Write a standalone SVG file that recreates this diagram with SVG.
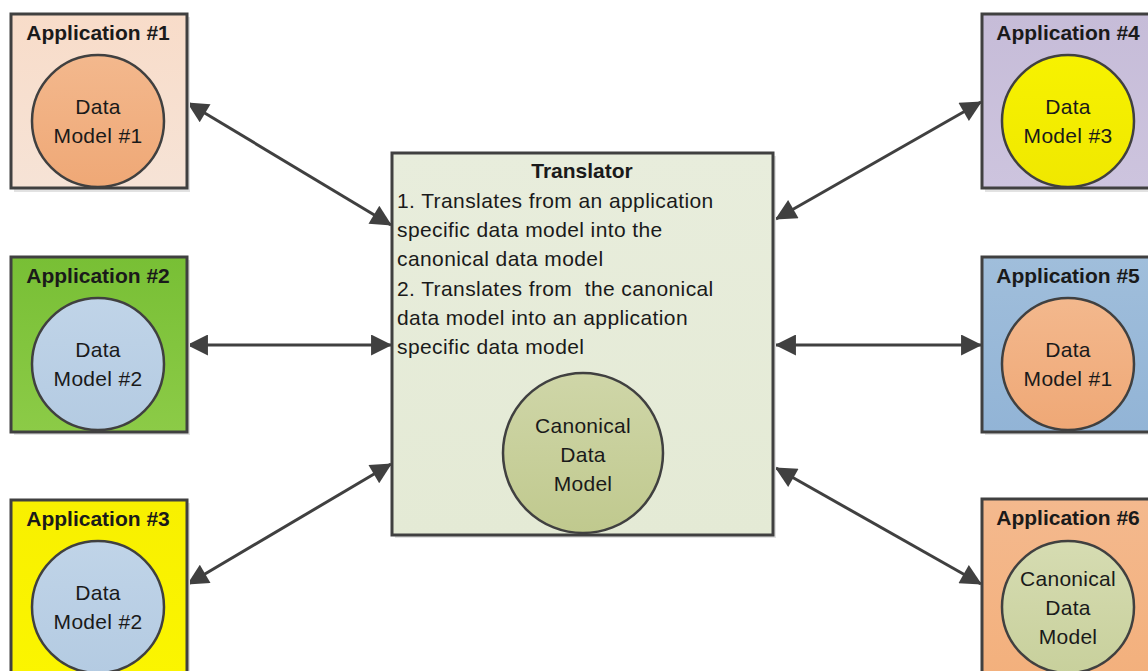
<svg xmlns="http://www.w3.org/2000/svg" width="1148" height="671" viewBox="0 0 1148 671">
<defs>
<style>
.box{stroke:#404040;stroke-width:3}
.circ{stroke:#404040;stroke-width:2.5}
.title{font-family:"Liberation Sans",Arial,sans-serif;font-size:21px;font-weight:bold;fill:#1a1a1a;text-anchor:middle}
.lbl{font-family:"Liberation Sans",Arial,sans-serif;font-size:21px;letter-spacing:0.3px;fill:#1a1a1a;text-anchor:middle}
.body{font-family:"Liberation Sans",Arial,sans-serif;font-size:21px;letter-spacing:0.4px;fill:#1a1a1a}
.conn{stroke:#404040;stroke-width:3;fill:none;marker-start:url(#ah);marker-end:url(#ah)}
.shadow{fill:#e2e2e2}
</style>
<marker id="ah" viewBox="0 0 10 10" refX="9.5" refY="5" markerWidth="8.5" markerHeight="7" markerUnits="strokeWidth" orient="auto-start-reverse">
<path d="M0,0 L10,5 L0,10 Z" fill="#404040"/>
</marker>
<linearGradient id="g1" x1="0" y1="0" x2="0" y2="1"><stop offset="0" stop-color="#f8dcc9"/><stop offset="1" stop-color="#f6e3d6"/></linearGradient>
<linearGradient id="g2" x1="0" y1="0" x2="0" y2="1"><stop offset="0" stop-color="#78bf35"/><stop offset="1" stop-color="#8ccb47"/></linearGradient>
<linearGradient id="g3" x1="0" y1="0" x2="0" y2="1"><stop offset="0" stop-color="#f8f000"/><stop offset="1" stop-color="#fbf500"/></linearGradient>
<linearGradient id="g4" x1="0" y1="0" x2="0" y2="1"><stop offset="0" stop-color="#c6bcd8"/><stop offset="1" stop-color="#cdc4de"/></linearGradient>
<linearGradient id="g5" x1="0" y1="0" x2="0" y2="1"><stop offset="0" stop-color="#a0bedb"/><stop offset="1" stop-color="#92b4d6"/></linearGradient>
<linearGradient id="g6" x1="0" y1="0" x2="0" y2="1"><stop offset="0" stop-color="#f4b98e"/><stop offset="1" stop-color="#f3b07c"/></linearGradient>
<linearGradient id="gt" x1="0" y1="0" x2="0" y2="1"><stop offset="0" stop-color="#e8eddc"/><stop offset="1" stop-color="#e4ead5"/></linearGradient>
<linearGradient id="co" x1="0" y1="0" x2="0" y2="1"><stop offset="0" stop-color="#f3b88d"/><stop offset="1" stop-color="#efa876"/></linearGradient>
<linearGradient id="cb" x1="0" y1="0" x2="0" y2="1"><stop offset="0" stop-color="#c0d4e8"/><stop offset="1" stop-color="#b4cbe2"/></linearGradient>
<linearGradient id="cy" x1="0" y1="0" x2="0" y2="1"><stop offset="0" stop-color="#f7f200"/><stop offset="1" stop-color="#f0e800"/></linearGradient>
<linearGradient id="cg" x1="0" y1="0" x2="0" y2="1"><stop offset="0" stop-color="#d6dcb2"/><stop offset="1" stop-color="#c8d09c"/></linearGradient>
<linearGradient id="cg2" x1="0" y1="0" x2="0" y2="1"><stop offset="0" stop-color="#cfd6a8"/><stop offset="1" stop-color="#c0c98e"/></linearGradient>
</defs>
<rect width="1148" height="671" fill="#ffffff"/>

<g id="connectors">
<line class="conn" x1="188" y1="103" x2="391" y2="225"/>
<line class="conn" x1="188" y1="345" x2="391" y2="345"/>
<line class="conn" x1="188" y1="584" x2="391" y2="464"/>
<line class="conn" x1="776" y1="219" x2="981" y2="102"/>
<line class="conn" x1="776" y1="345" x2="981" y2="345"/>
<line class="conn" x1="776" y1="468" x2="981" y2="584"/>
</g>

<g id="app1">
<rect class="shadow" x="14" y="17" width="176" height="175"/>
<rect class="box" x="11" y="14" width="176" height="174" fill="url(#g1)"/>
<text class="title" x="98" y="40">Application #1</text>
<circle class="circ" cx="98" cy="121" r="66" fill="url(#co)"/>
<text class="lbl" x="98" y="114">Data</text>
<text class="lbl" x="98" y="143">Model #1</text>
</g>

<g id="app2">
<rect class="shadow" x="14" y="260" width="176" height="175"/>
<rect class="box" x="11" y="257" width="176" height="175" fill="url(#g2)"/>
<text class="title" x="98" y="283">Application #2</text>
<circle class="circ" cx="98" cy="364" r="66" fill="url(#cb)"/>
<text class="lbl" x="98" y="357">Data</text>
<text class="lbl" x="98" y="386">Model #2</text>
</g>

<g id="app3">
<rect class="shadow" x="14" y="503" width="176" height="175"/>
<rect class="box" x="11" y="500" width="176" height="180" fill="url(#g3)"/>
<text class="title" x="98" y="526">Application #3</text>
<circle class="circ" cx="98" cy="607" r="66" fill="url(#cb)"/>
<text class="lbl" x="98" y="600">Data</text>
<text class="lbl" x="98" y="629">Model #2</text>
</g>

<g id="app4">
<rect class="shadow" x="985" y="17" width="180" height="175"/>
<rect class="box" x="982" y="14" width="180" height="174" fill="url(#g4)"/>
<text class="title" x="1068" y="40">Application #4</text>
<circle class="circ" cx="1068" cy="121" r="66" fill="url(#cy)"/>
<text class="lbl" x="1068" y="114">Data</text>
<text class="lbl" x="1068" y="143">Model #3</text>
</g>

<g id="app5">
<rect class="shadow" x="985" y="260" width="180" height="175"/>
<rect class="box" x="982" y="257" width="180" height="175" fill="url(#g5)"/>
<text class="title" x="1068" y="283">Application #5</text>
<circle class="circ" cx="1068" cy="364" r="66" fill="url(#co)"/>
<text class="lbl" x="1068" y="357">Data</text>
<text class="lbl" x="1068" y="386">Model #1</text>
</g>

<g id="app6">
<rect class="shadow" x="985" y="502" width="180" height="175"/>
<rect class="box" x="982" y="499" width="180" height="180" fill="url(#g6)"/>
<text class="title" x="1068" y="525">Application #6</text>
<circle class="circ" cx="1068" cy="607" r="66" fill="url(#cg)"/>
<text class="lbl" x="1068" y="586">Canonical</text>
<text class="lbl" x="1068" y="615">Data</text>
<text class="lbl" x="1068" y="644">Model</text>
</g>

<g id="translator">
<rect class="shadow" x="395" y="156" width="381" height="382"/>
<rect class="box" x="392" y="153" width="381" height="382" fill="url(#gt)"/>
<text class="title" x="582" y="178">Translator</text>
<text class="body" x="397" y="208">1. Translates from an application</text>
<text class="body" x="397" y="237">specific data model into the</text>
<text class="body" x="397" y="266">canonical data model</text>
<text class="body" x="397" y="296" xml:space="preserve">2. Translates from  the canonical</text>
<text class="body" x="397" y="325">data model into an application</text>
<text class="body" x="397" y="354">specific data model</text>
<circle class="circ" cx="583" cy="453" r="80" fill="url(#cg2)"/>
<text class="lbl" x="583" y="433">Canonical</text>
<text class="lbl" x="583" y="462">Data</text>
<text class="lbl" x="583" y="491">Model</text>
</g>
</svg>
